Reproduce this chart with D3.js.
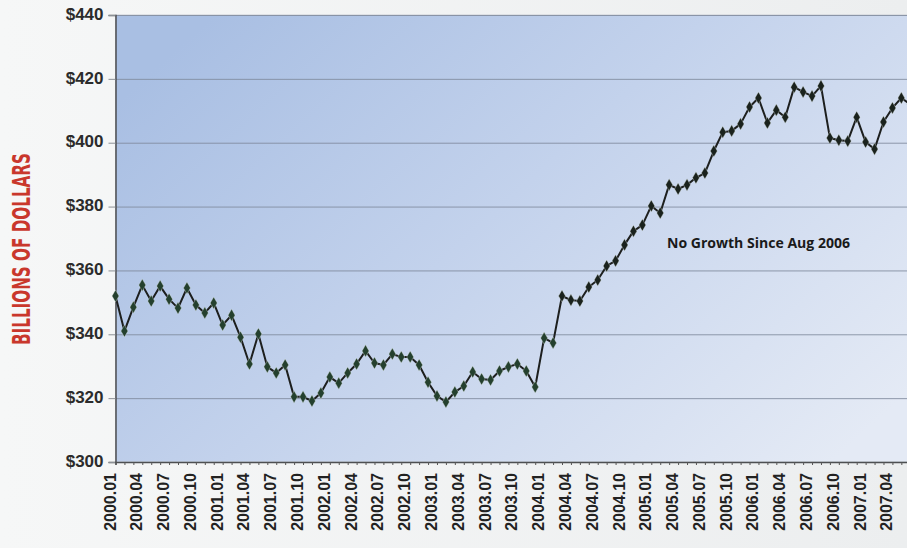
<!DOCTYPE html>
<html>
<head>
<meta charset="utf-8">
<script src="https://cdn.jsdelivr.net/npm/d3@7/dist/d3.min.js"></script>
<style>
  html, body { margin: 0; padding: 0; background: #eef0f1; }
  svg { display: block; }
</style>
</head>
<body>
<svg id="chart" width="907" height="548"></svg>
<script>
// ---- data ----
const startYear = 2000;
const values = [
  352, 341, 348.5, 355.4, 350.4, 355.1, 351, 348.2, 354.5, 349.2, 346.7, 349.8,
  342.9, 346, 339.1, 330.7, 340.1, 329.8, 327.9, 330.4, 320.4, 320.4, 319.1, 321.6,
  326.6, 324.7, 327.9, 330.7, 334.8, 331, 330.4, 333.8, 332.9, 332.9, 330.4, 325,
  320.7, 318.8, 321.9, 323.8, 328.2, 326, 325.7, 328.5, 329.8, 330.7, 328.5, 323.5,
  338.8, 337.3, 352, 350.7, 350.4, 354.8, 357, 361.4, 363, 368, 372.3, 374.2,
  380.2, 378, 386.8, 385.5, 386.8, 389, 390.5, 397.4, 403.3, 403.7, 405.9, 411.2,
  414, 406.2, 410.2, 408, 417.4, 415.9, 414.6, 417.8, 401.5, 400.8, 400.5, 408,
  400.2, 398, 406.5, 410.9, 414, 412
];
const months = values.map((v, i) => {
  const y = startYear + Math.floor(i / 12);
  const m = (i % 12) + 1;
  return y + "." + (m < 10 ? "0" + m : m);
});
const tickLabels = months.filter((m, i) => i % 3 === 0);
const yTicks = [300, 320, 340, 360, 380, 400, 420, 440];
const yTitle = "BILLIONS OF DOLLARS";
const annotation = "No Growth Since Aug 2006";

// ---- layout ----
const svg = d3.select("#chart");
const plot = { left: 115.5, top: 15, bottom: 462, right: 930 };
const step = 8.93;

const x = d3.scaleLinear().domain([0, values.length - 1])
  .range([plot.left, plot.left + step * (values.length - 1)]);
const y = d3.scaleLinear().domain([300, 440]).range([plot.bottom, plot.top]);

// gradient
const defs = svg.append("defs");
const grad = defs.append("linearGradient").attr("id", "bg")
  .attr("x1", "0").attr("y1", "0.2").attr("x2", "1").attr("y2", "0.8");
grad.append("stop").attr("offset", "0").attr("stop-color", "#a9bfe3");
grad.append("stop").attr("offset", "0.45").attr("stop-color", "#c3d2ec");
grad.append("stop").attr("offset", "1").attr("stop-color", "#e4eaf5");

// left page lightening
const pg = defs.append("linearGradient").attr("id", "page")
  .attr("x1", "0").attr("y1", "0").attr("x2", "1").attr("y2", "0");
pg.append("stop").attr("offset", "0").attr("stop-color", "#f6f7f7");
pg.append("stop").attr("offset", "1").attr("stop-color", "#eceeef");
svg.append("rect").attr("width", 907).attr("height", 548).attr("fill", "url(#page)");

svg.append("rect")
  .attr("x", plot.left).attr("y", plot.top)
  .attr("width", plot.right - plot.left).attr("height", plot.bottom - plot.top)
  .attr("fill", "url(#bg)")
  .attr("stroke", "#c9ced6").attr("stroke-width", 1);

// gridlines
const grid = svg.append("g").attr("transform", `translate(${plot.left},0)`)
  .call(d3.axisLeft(y).tickValues(yTicks.filter(t => t > 300)).tickSize(-(plot.right - plot.left)).tickFormat(""));
grid.select(".domain").remove();
grid.selectAll("line").attr("stroke", "#7f8a9c").attr("stroke-width", 1).attr("opacity", 0.85);

// y axis
const yAxis = svg.append("g").attr("transform", `translate(${plot.left},0)`)
  .call(d3.axisLeft(y).tickValues(yTicks).tickSize(7).tickPadding(5).tickFormat(d => "$" + d));
yAxis.select(".domain").attr("stroke", "#4d4f52").attr("stroke-width", 1.5);
yAxis.selectAll("line").attr("stroke", "#8c9096");
yAxis.selectAll("text")
  .attr("font-family", "'Liberation Sans', Arial, sans-serif")
  .attr("font-weight", "bold").attr("font-size", 17)
  .attr("fill", "#2b2b2b").attr("dy", "0.25em");

// x axis minor ticks
const xMinor = svg.append("g").attr("transform", `translate(0,${plot.bottom})`)
  .call(d3.axisBottom(x).tickValues(d3.range(values.length)).tickSize(3).tickFormat(""));
xMinor.select(".domain").attr("stroke", "#4d4f52").attr("stroke-width", 1.5);
xMinor.selectAll("line").attr("stroke", "#555");

// x axis labels
const xAxis = svg.append("g").attr("transform", `translate(0,${plot.bottom})`)
  .call(d3.axisBottom(x).tickValues(d3.range(0, values.length, 3)).tickSize(0)
    .tickFormat(i => tickLabels[i / 3]));
xAxis.select(".domain").remove();
xAxis.selectAll("text")
  .attr("x", 0).attr("y", 0).attr("dy", 0)
  .attr("text-anchor", "end")
  .attr("transform", "translate(-0.5,11) rotate(-90)")
  .attr("font-family", "'Liberation Sans', Arial, sans-serif")
  .attr("font-weight", "bold").attr("font-size", 16)
  .attr("fill", "#222");

// y title
svg.append("text")
  .attr("transform", "translate(30,249) rotate(-90)")
  .attr("text-anchor", "middle")
  .attr("font-family", "'Liberation Sans Narrow', 'DejaVu Sans Condensed', sans-serif")
  .attr("font-weight", "bold").attr("font-size", 25)
  .attr("textLength", 192).attr("lengthAdjust", "spacingAndGlyphs")
  .attr("fill", "#c9372c")
  .text(yTitle);

// clip for line
defs.append("clipPath").attr("id", "clip").append("rect")
  .attr("x", plot.left - 6).attr("y", 0).attr("width", 1000).attr("height", plot.bottom + 6);

const g = svg.append("g").attr("clip-path", "url(#clip)");
g.append("path").datum(values)
  .attr("fill", "none").attr("stroke", "#1d1f1e").attr("stroke-width", 2)
  .attr("stroke-linejoin", "round")
  .attr("d", d3.line().x((d, i) => x(i)).y(d => y(d)));

g.selectAll("path.pt").data(values).enter().append("path")
  .attr("class", "pt")
  .attr("transform", (d, i) => `translate(${x(i)},${y(d)})`)
  .attr("d", d3.symbol().type(d3.symbolDiamond).size(42))
  .attr("fill", (d, i) => i < 50 ? "#24402e" : "#1a221d")
  .attr("stroke", "#dfe8e2").attr("stroke-width", 0.6).attr("stroke-opacity", 0.6);

// annotation
svg.append("text")
  .attr("x", 667).attr("y", 247.5)
  .attr("font-family", "'Open Sans', 'Noto Sans', sans-serif")
  .attr("font-weight", "bold").attr("font-size", 14.5)
  .attr("textLength", 183).attr("lengthAdjust", "spacingAndGlyphs")
  .attr("fill", "#1a1a1a")
  .text(annotation);
</script>
</body>
</html>
